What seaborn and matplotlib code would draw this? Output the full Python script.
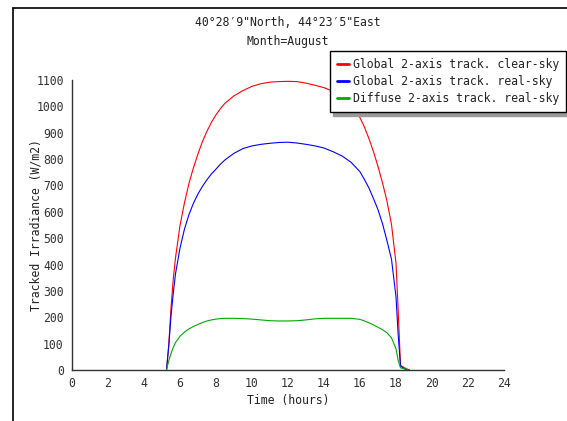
import matplotlib
matplotlib.use("Agg")
import matplotlib.pyplot as plt
from matplotlib.lines import Line2D
import pandas as pd
import seaborn as sns

# Hour of day (local solar time)
hours = [5.25, 5.375, 5.5, 5.625, 5.75, 6.0, 6.25, 6.5, 6.75, 7.0, 7.25, 7.5,
         7.75, 8.0, 8.25, 8.5, 9.0, 9.5, 10.0, 10.5, 11.0, 11.5, 12.0, 12.5, 13.0,
         13.5, 14.0, 14.5, 15.0, 15.5, 16.0, 16.25, 16.5, 16.75, 17.0, 17.25,
         17.5, 17.75, 18.0, 18.125, 18.25, 18.5, 18.75]

# Global irradiance on a 2-axis tracking plane, clear-sky (W/m2)
clear_sky = [0, 95, 235, 345, 425, 548, 635, 708, 768, 820, 867, 906,
             940, 968, 992, 1012, 1040, 1060, 1076, 1086, 1092, 1094, 1095, 1094, 1088,
             1080, 1071, 1057, 1036, 1003, 957, 921, 877, 828, 772, 710,
             640, 552, 405, 220, 18, 7, 0]

# Global irradiance on a 2-axis tracking plane, real-sky (W/m2)
real_sky = [0, 90, 205, 290, 365, 462, 535, 590, 633, 668, 697, 722,
            744, 762, 781, 797, 822, 840, 850, 856, 860, 863, 864, 861, 856,
            850, 842, 828, 812, 788, 752, 722, 690, 650, 608, 555,
            490, 420, 278, 130, 15, 3, 0]

# Diffuse irradiance on a 2-axis tracking plane, real-sky (W/m2)
diffuse = [0, 35, 62, 86, 104, 128, 144, 156, 165, 173, 180, 186,
           190, 193, 195, 196, 196, 195, 193, 190, 187, 186, 186, 187, 190,
           194, 196, 196, 196, 196, 192, 186, 179, 171, 162, 153,
           141, 122, 80, 35, 8, 4, 0]

series_labels = ["Global 2-axis track. clear-sky",
                 "Global 2-axis track. real-sky",
                 "Diffuse 2-axis track. real-sky"]
series_colors = ["#ff0000", "#0000ff", "#00aa00"]

x_ticks = list(range(0, 25, 2))
y_ticks = list(range(0, 1101, 100))

sns.set_style("white")
plt.rcParams["font.family"] = ["DejaVu Sans Mono", "DejaVu Sans"]
plt.rcParams["font.size"] = 8.3

df = pd.DataFrame({"hour": hours, "clear": clear_sky,
                   "real": real_sky, "diffuse": diffuse})

fig = plt.figure(figsize=(5.67, 4.21), dpi=100)
ax = fig.add_axes([72 / 567, 51 / 421, 432 / 567, 290 / 421])

for col, lab, colr in zip(["clear", "real", "diffuse"], series_labels, series_colors):
    sns.lineplot(data=df, x="hour", y=col, ax=ax, color=colr, linewidth=0.8,
                 label=lab, legend=False)

ax.set_xlim(0, 24)
ax.set_ylim(0, 1100)
ax.set_xticks(x_ticks)
ax.set_yticks(y_ticks)
ax.set_xlabel("Time (hours)", color="#222222", fontsize=8.3)
ax.set_ylabel("Tracked Irradiance (W/m2)", color="#222222", fontsize=8.3)
ax.xaxis.set_label_coords(0.5, -0.082)
ax.yaxis.set_label_coords(-0.068, 0.5)

for side in ["top", "right"]:
    ax.spines[side].set_visible(False)
for side in ["left", "bottom"]:
    ax.spines[side].set_color("#333333")
    ax.spines[side].set_linewidth(1.0)
ax.tick_params(axis="both", direction="in", length=5, width=1, color="#333333",
               labelcolor="#333333", labelsize=8.3)
ax.tick_params(axis="y", pad=6)
ax.tick_params(axis="x", pad=5)

fig.text(288 / 567, 1 - 22 / 421, "40°28′9\"North, 44°23′5\"East",
         ha="center", va="center", fontsize=8.3, color="#222222")
fig.text(288 / 567, 1 - 42 / 421, "Month=August",
         ha="center", va="center", fontsize=8.3, color="#222222")

handles = [Line2D([], [], color=c, linewidth=2) for c in series_colors]
leg = ax.legend(handles, series_labels, loc="upper right",
                bbox_to_anchor=(566 / 567, 1 - 51 / 421),
                bbox_transform=fig.transFigure, frameon=True, fancybox=False,
                shadow={"color": "#999999", "alpha": 1.0, "ox": 2.5, "oy": -3},
                handlelength=1.05, handletextpad=0.37, borderpad=0.58,
                labelspacing=0.38, borderaxespad=0, fontsize=8.3)
leg.get_frame().set_edgecolor("black")
leg.get_frame().set_linewidth(1.0)
for t in leg.get_texts():
    t.set_color("#222222")

# Outer border of the figure panel
fig.add_artist(Line2D([13 / 567, 13 / 567], [0, 1 - 8 / 421], color="black",
                      linewidth=1.2, transform=fig.transFigure))
fig.add_artist(Line2D([13 / 567, 1], [1 - 8 / 421, 1 - 8 / 421], color="black",
                      linewidth=1.2, transform=fig.transFigure))

fig.savefig("out.png", dpi=100)
